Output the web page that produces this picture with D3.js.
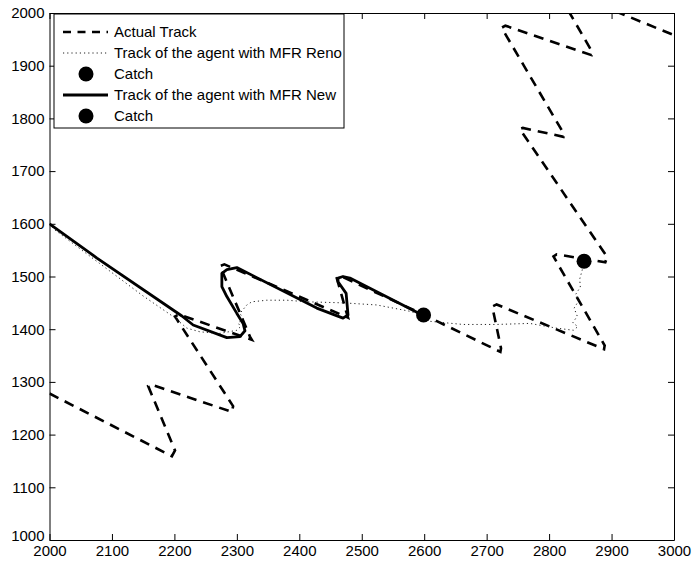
<!DOCTYPE html>
<html>
<head>
<meta charset="utf-8">
<script src="https://cdn.jsdelivr.net/npm/d3@7"></script>
<style>
  html, body { margin: 0; padding: 0; background: #fff; }
  svg { display: block; font-family: "Liberation Sans", Arial, Helvetica, sans-serif; }
</style>
</head>
<body>
<svg id="chart" width="693" height="562"></svg>
<script>
// ---- data ----
const xTicks = [2000, 2100, 2200, 2300, 2400, 2500, 2600, 2700, 2800, 2900, 3000];
const yTicks = [1000, 1100, 1200, 1300, 1400, 1500, 1600, 1700, 1800, 1900, 2000];

// Actual track (dashed)
const actualX = [2000, 2196, 2201, 2158, 2163, 2292, 2294, 2201, 2207, 2324, 2321, 2273, 2280, 2478, 2476, 2460, 2466,
                 2600, 2722, 2723, 2709, 2716, 2888, 2889, 2807, 2812, 2890, 2893, 2753, 2758, 2823, 2824,
                 2724, 2730, 2868, 2869, 2833, 2810, 2913, 3000, 3040, 2980];
const actualY = [1278, 1159, 1170, 1292, 1295, 1243, 1254, 1424, 1428, 1380, 1386, 1520, 1523, 1422, 1430, 1497, 1501,
                 1427, 1357, 1364, 1443, 1447, 1362, 1369, 1538, 1542, 1527, 1537, 1780, 1782, 1765, 1770,
                 1972, 1976, 1920, 1926, 2000, 2050, 2000, 1958, 1940, 2030];

// Track of the agent with MFR Reno (dotted)
const renoX = [2000, 2009, 2080, 2150, 2198, 2220, 2241, 2273, 2300, 2306, 2302, 2310, 2305, 2316, 2324, 2348, 2380, 2412,
               2470, 2524, 2577, 2600, 2609, 2662, 2716, 2769, 2812, 2839, 2846, 2838, 2845, 2840, 2848, 2842, 2850, 2849, 2853, 2856];
const renoY = [1600, 1588, 1525, 1463, 1424, 1402, 1395, 1392, 1398, 1405, 1412, 1420, 1430, 1446, 1452, 1455, 1455, 1452,
               1450, 1446, 1434, 1426, 1415, 1409, 1409, 1411, 1402, 1398, 1405, 1412, 1425, 1440, 1455, 1465, 1480, 1495, 1512, 1530];

// Track of the agent with MFR New (solid)
const newX = [2000, 2076, 2212, 2230, 2284, 2305, 2313, 2310, 2300, 2284, 2276, 2276, 2284, 2300, 2428, 2470, 2478, 2475, 2462, 2462, 2470, 2481, 2600];
const newY = [1600, 1535, 1425, 1408, 1384, 1386, 1397, 1411, 1430, 1462, 1481, 1506, 1513, 1517, 1440, 1421, 1427, 1468, 1490, 1497, 1500, 1497, 1425];

// Catch points
const catchRenoX = [2856];
const catchRenoY = [1529];
const catchNewX = [2599];
const catchNewY = [1427];

const legendLabels = ["Actual Track", "Track of the agent with MFR Reno", "Catch", "Track of the agent with MFR New", "Catch"];

// ---- drawing ----
const svg = d3.select("#chart");
const L = 49.5, R = 674, T = 13, B = 540;
const x = d3.scaleLinear().domain([2000, 3000]).range([L, R]);
const y = d3.scaleLinear().domain([1000, 2000]).range([B, T]);

const zip = (xs, ys) => xs.map((v, i) => [v, ys[i]]);
const line = d3.line().x(d => x(d[0])).y(d => y(d[1]));

svg.append("defs").append("clipPath").attr("id", "plotclip")
  .append("rect").attr("x", L).attr("y", T).attr("width", R - L).attr("height", B - T);

svg.append("rect").attr("x", L).attr("y", T).attr("width", R - L).attr("height", B - T).attr("fill", "#fff");

const g = svg.append("g").attr("clip-path", "url(#plotclip)");

g.append("path").datum(zip(actualX, actualY)).attr("d", line)
  .attr("fill", "none").attr("stroke", "#000").attr("stroke-width", 2.6)
  .attr("stroke-dasharray", "10,7");

g.append("path").datum(zip(renoX, renoY)).attr("d", line)
  .attr("fill", "none").attr("stroke", "#222").attr("stroke-width", 1)
  .attr("stroke-dasharray", "1.2,3");

g.append("path").datum(zip(newX, newY)).attr("d", line)
  .attr("fill", "none").attr("stroke", "#000").attr("stroke-width", 2.8)
  .attr("stroke-linejoin", "round");

g.selectAll("circle.cr").data(zip(catchRenoX, catchRenoY)).join("circle")
  .attr("cx", d => x(d[0])).attr("cy", d => y(d[1])).attr("r", 7.5).attr("fill", "#000");
g.selectAll("circle.cn").data(zip(catchNewX, catchNewY)).join("circle")
  .attr("cx", d => x(d[0])).attr("cy", d => y(d[1])).attr("r", 7.5).attr("fill", "#000");

// axes
const fmt = d3.format("d");
const ax = svg.append("g").attr("transform", `translate(0,${B})`)
  .call(d3.axisBottom(x).tickValues(xTicks).tickFormat(fmt).tickSizeInner(-6).tickSizeOuter(0).tickPadding(5));
const ay = svg.append("g").attr("transform", `translate(${L},0)`)
  .call(d3.axisLeft(y).tickValues(yTicks).tickFormat(fmt).tickSizeInner(-6).tickSizeOuter(0).tickPadding(5));
const at = svg.append("g").attr("transform", `translate(0,${T})`)
  .call(d3.axisTop(x).tickValues(xTicks).tickFormat("").tickSizeInner(-6).tickSizeOuter(0));
const ar = svg.append("g").attr("transform", `translate(${R},0)`)
  .call(d3.axisRight(y).tickValues(yTicks).tickFormat("").tickSizeInner(-6).tickSizeOuter(0));

[ax, ay, at, ar].forEach(a => {
  a.select(".domain").attr("stroke", "#000").attr("stroke-width", 1);
  a.selectAll(".tick line").attr("stroke", "#000");
  a.selectAll("text").attr("fill", "#000").attr("font-size", 15)
    .attr("font-family", "'Liberation Sans', Arial, Helvetica, sans-serif");
});
// lift the lowest y label slightly so it does not collide with the first x label
ay.selectAll(".tick").filter(d => d === yTicks[0]).select("text").attr("dy", "0.05em");

// legend
const lg = svg.append("g");
lg.append("rect").attr("x", 54).attr("y", 14).attr("width", 290).attr("height", 114)
  .attr("fill", "#fff").attr("stroke", "#000").attr("stroke-width", 1);
const rowsY = [32, 53, 74, 95, 116];
legendLabels.forEach((lab, i) => {
  const yy = rowsY[i];
  if (i === 0) {
    lg.append("line").attr("x1", 63).attr("x2", 108).attr("y1", yy).attr("y2", yy)
      .attr("stroke", "#000").attr("stroke-width", 2.6).attr("stroke-dasharray", "8,6.5");
  } else if (i === 1) {
    lg.append("line").attr("x1", 63).attr("x2", 108).attr("y1", yy).attr("y2", yy)
      .attr("stroke", "#222").attr("stroke-width", 1).attr("stroke-dasharray", "1.2,3");
  } else if (i === 3) {
    lg.append("line").attr("x1", 63).attr("x2", 108).attr("y1", yy).attr("y2", yy)
      .attr("stroke", "#000").attr("stroke-width", 2.8);
  } else {
    lg.append("circle").attr("cx", 86).attr("cy", yy).attr("r", 7.5).attr("fill", "#000");
  }
  lg.append("text").attr("x", 114).attr("y", yy).attr("dy", "0.35em")
    .attr("font-size", 15).attr("fill", "#000").text(lab);
});
</script>
</body>
</html>
